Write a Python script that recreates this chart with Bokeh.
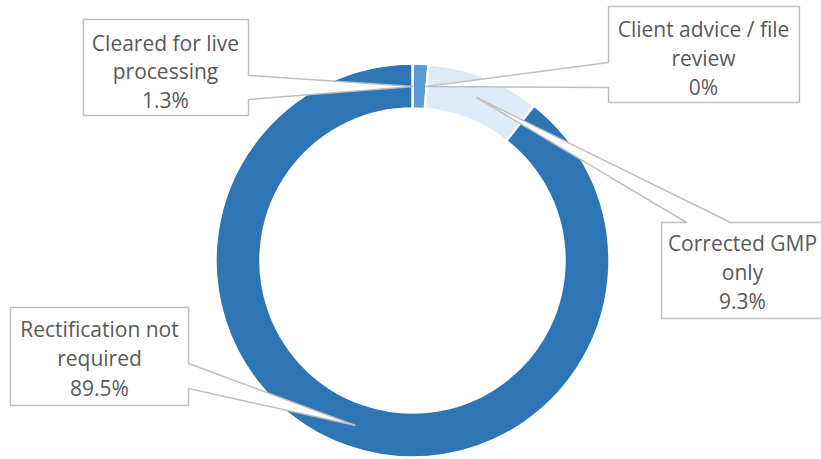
import math
from bokeh.plotting import figure
from bokeh.models import Range1d, ColumnDataSource
from bokeh.core.properties import value
from bokeh.embed import file_html
from bokeh.resources import INLINE

# ---- data ----
categories = ["Cleared for live processing", "Client advice / file review",
              "Corrected GMP only", "Rectification not required"]
values = [1.3, 0.0, 9.3, 89.5]
value_labels = ["1.3%", "0%", "9.3%", "89.5%"]
label_lines = [["Cleared for live", "processing"],
               ["Client advice / file", "review"],
               ["Corrected GMP", "only"],
               ["Rectification not", "required"]]
colors = ["#5B9BD5", "#A5C8EC", "#DDEBF7", "#2E75B6"]

W, H = 821, 459
def Y(y):  # pixel-from-top -> data
    return H - y

p = figure(width=W, height=H, output_backend="svg", toolbar_location=None,
           x_range=Range1d(0, W), y_range=Range1d(0, H), min_border=0)
p.axis.visible = False
p.grid.visible = False
p.outline_line_color = None
p.background_fill_color = "white"
p.border_fill_color = "white"

cx, cy = 412, Y(260)
r_out, r_in = 197, 152
total = sum(values)
starts, ends, cols, cats = [], [], [], []
cum = 0.0
for v, c, n in zip(values, colors, categories):
    a0 = math.pi / 2 - 2 * math.pi * cum / total
    cum += v
    a1 = math.pi / 2 - 2 * math.pi * cum / total
    if v > 0:
        starts.append(a0); ends.append(a1); cols.append(c); cats.append(n)
src = ColumnDataSource(dict(start=starts, end=ends, color=cols, cat=cats))
p.annular_wedge(x=cx, y=cy, inner_radius=r_in, outer_radius=r_out,
                start_angle="start", end_angle="end", direction="clock",
                fill_color="color", line_color="white", line_width=2.5, source=src)

# ---- callouts (layout) ----
callouts = [
    [(83, 19), (248, 19), (248, 75), (413, 86), (248, 99), (248, 115), (83, 115)],
    [(608, 6), (799, 6), (799, 102), (608, 102), (608, 87), (425, 86), (608, 62)],
    [(661, 222), (686, 222), (476, 97), (730, 222), (823, 222), (823, 318), (661, 318)],
    [(10, 307), (188, 307), (188, 363), (355, 425), (188, 388), (188, 405), (10, 405)],
]
text_pos = [(165, [42, 70, 99]), (703, [28, 57, 86]), (742, [242, 271, 300]), (99, [328, 357, 387])]

for poly in callouts:
    p.patch([q[0] for q in poly], [Y(q[1]) for q in poly], fill_color="white",
            line_color="#BFBFBF", line_width=1.5)

tx, ty, tt = [], [], []
for i in range(len(categories)):
    x0, ys = text_pos[i]
    lines = label_lines[i] + [value_labels[i]]
    for yy, t in zip(ys, lines):
        tx.append(x0); ty.append(Y(yy)); tt.append(t)
p.text(x=tx, y=ty, text=tt, text_align="center", text_baseline="middle",
       text_font=value("Open Sans"), text_font_size="21px", text_color="#595959")

open("out.html", "w").write(file_html(p, INLINE))
